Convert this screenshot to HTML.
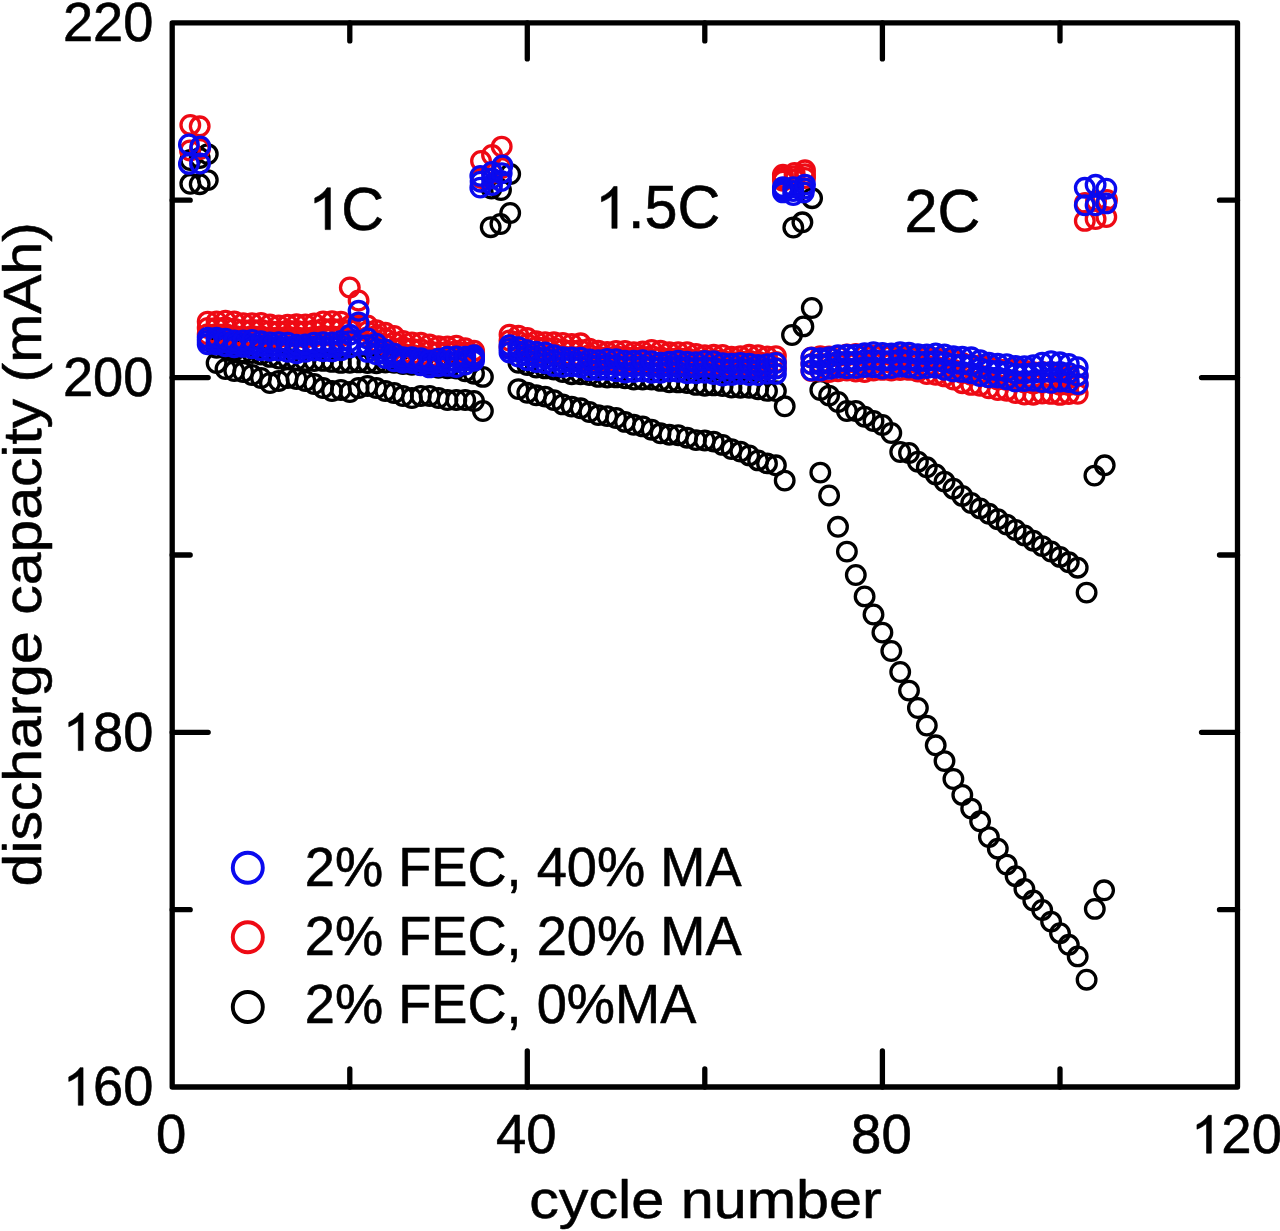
<!DOCTYPE html>
<html lang="en">
<head>
<meta charset="utf-8">
<title>discharge capacity vs cycle number</title>
<style>
html,body{margin:0;padding:0;background:#fff;}
body{width:1280px;height:1231px;overflow:hidden;font-family:"Liberation Sans",sans-serif;}
svg{display:block;filter:blur(0.55px);}
</style>
</head>
<body>
<svg width="1280" height="1231" viewBox="0 0 1280 1231">
<rect width="1280" height="1231" fill="#fff"/>
<g fill="none" stroke-width="3.3">
<g stroke="#000">
<circle cx="190.3" cy="183.8" r="9.3"/>
<circle cx="199.7" cy="184.2" r="9.3"/>
<circle cx="207.8" cy="180.1" r="9.3"/>
<circle cx="216.6" cy="363.0" r="9.3"/>
<circle cx="225.5" cy="369.0" r="9.3"/>
<circle cx="234.3" cy="371.0" r="9.3"/>
<circle cx="243.2" cy="372.0" r="9.3"/>
<circle cx="252.1" cy="375.0" r="9.3"/>
<circle cx="261.0" cy="378.0" r="9.3"/>
<circle cx="269.9" cy="383.0" r="9.3"/>
<circle cx="278.7" cy="381.0" r="9.3"/>
<circle cx="287.6" cy="378.0" r="9.3"/>
<circle cx="296.5" cy="379.0" r="9.3"/>
<circle cx="305.4" cy="381.0" r="9.3"/>
<circle cx="314.2" cy="384.0" r="9.3"/>
<circle cx="323.1" cy="388.0" r="9.3"/>
<circle cx="332.0" cy="391.0" r="9.3"/>
<circle cx="340.9" cy="390.0" r="9.3"/>
<circle cx="349.8" cy="392.0" r="9.3"/>
<circle cx="358.6" cy="388.0" r="9.3"/>
<circle cx="367.5" cy="386.0" r="9.3"/>
<circle cx="376.4" cy="388.0" r="9.3"/>
<circle cx="385.3" cy="391.0" r="9.3"/>
<circle cx="394.1" cy="393.0" r="9.3"/>
<circle cx="403.0" cy="396.0" r="9.3"/>
<circle cx="411.9" cy="398.0" r="9.3"/>
<circle cx="420.8" cy="396.0" r="9.3"/>
<circle cx="429.6" cy="396.0" r="9.3"/>
<circle cx="438.5" cy="398.0" r="9.3"/>
<circle cx="447.4" cy="400.0" r="9.3"/>
<circle cx="456.3" cy="400.0" r="9.3"/>
<circle cx="465.2" cy="400.0" r="9.3"/>
<circle cx="474.0" cy="401.0" r="9.3"/>
<circle cx="482.9" cy="411.0" r="9.3"/>
<circle cx="490.7" cy="227.2" r="9.3"/>
<circle cx="500.4" cy="224.0" r="9.3"/>
<circle cx="510.2" cy="213.0" r="9.3"/>
<circle cx="518.4" cy="389.1" r="9.3"/>
<circle cx="527.3" cy="392.8" r="9.3"/>
<circle cx="536.2" cy="395.3" r="9.3"/>
<circle cx="545.1" cy="396.6" r="9.3"/>
<circle cx="553.9" cy="400.1" r="9.3"/>
<circle cx="562.8" cy="404.4" r="9.3"/>
<circle cx="571.7" cy="406.6" r="9.3"/>
<circle cx="580.6" cy="408.3" r="9.3"/>
<circle cx="589.4" cy="412.0" r="9.3"/>
<circle cx="598.3" cy="415.1" r="9.3"/>
<circle cx="607.2" cy="416.1" r="9.3"/>
<circle cx="616.1" cy="418.0" r="9.3"/>
<circle cx="625.0" cy="421.9" r="9.3"/>
<circle cx="633.8" cy="424.8" r="9.3"/>
<circle cx="642.7" cy="426.4" r="9.3"/>
<circle cx="651.6" cy="429.7" r="9.3"/>
<circle cx="660.5" cy="433.3" r="9.3"/>
<circle cx="669.3" cy="434.7" r="9.3"/>
<circle cx="678.2" cy="435.2" r="9.3"/>
<circle cx="687.1" cy="437.7" r="9.3"/>
<circle cx="696.0" cy="440.1" r="9.3"/>
<circle cx="704.8" cy="440.5" r="9.3"/>
<circle cx="713.7" cy="441.6" r="9.3"/>
<circle cx="722.6" cy="444.9" r="9.3"/>
<circle cx="731.5" cy="449.1" r="9.3"/>
<circle cx="740.4" cy="451.6" r="9.3"/>
<circle cx="749.2" cy="455.4" r="9.3"/>
<circle cx="758.1" cy="460.4" r="9.3"/>
<circle cx="767.0" cy="463.4" r="9.3"/>
<circle cx="775.9" cy="465.3" r="9.3"/>
<circle cx="784.7" cy="480.6" r="9.3"/>
<circle cx="792.0" cy="335.0" r="9.3"/>
<circle cx="803.4" cy="326.4" r="9.3"/>
<circle cx="811.8" cy="308.0" r="9.3"/>
<circle cx="820.3" cy="472.6" r="9.3"/>
<circle cx="829.1" cy="495.5" r="9.3"/>
<circle cx="838.0" cy="526.8" r="9.3"/>
<circle cx="846.9" cy="551.6" r="9.3"/>
<circle cx="855.8" cy="575.0" r="9.3"/>
<circle cx="864.6" cy="596.4" r="9.3"/>
<circle cx="873.5" cy="614.5" r="9.3"/>
<circle cx="882.4" cy="632.6" r="9.3"/>
<circle cx="891.3" cy="651.0" r="9.3"/>
<circle cx="900.2" cy="672.0" r="9.3"/>
<circle cx="909.0" cy="690.6" r="9.3"/>
<circle cx="917.9" cy="708.0" r="9.3"/>
<circle cx="926.8" cy="725.6" r="9.3"/>
<circle cx="935.7" cy="745.3" r="9.3"/>
<circle cx="944.5" cy="761.1" r="9.3"/>
<circle cx="953.4" cy="779.0" r="9.3"/>
<circle cx="962.3" cy="794.9" r="9.3"/>
<circle cx="971.2" cy="808.6" r="9.3"/>
<circle cx="980.1" cy="821.3" r="9.3"/>
<circle cx="988.9" cy="837.1" r="9.3"/>
<circle cx="997.8" cy="848.7" r="9.3"/>
<circle cx="1006.7" cy="864.6" r="9.3"/>
<circle cx="1015.6" cy="876.2" r="9.3"/>
<circle cx="1024.4" cy="888.9" r="9.3"/>
<circle cx="1033.3" cy="900.5" r="9.3"/>
<circle cx="1042.2" cy="910.0" r="9.3"/>
<circle cx="1051.1" cy="921.6" r="9.3"/>
<circle cx="1060.0" cy="933.2" r="9.3"/>
<circle cx="1068.8" cy="944.8" r="9.3"/>
<circle cx="1077.7" cy="956.4" r="9.3"/>
<circle cx="1086.6" cy="979.7" r="9.3"/>
<circle cx="1094.8" cy="908.9" r="9.3"/>
<circle cx="1104.1" cy="890.3" r="9.3"/>
</g>
<g stroke="#000">
<circle cx="190.3" cy="160.0" r="9.3"/>
<circle cx="199.7" cy="158.0" r="9.3"/>
<circle cx="207.8" cy="154.1" r="9.3"/>
<circle cx="216.6" cy="347.8" r="9.3"/>
<circle cx="225.5" cy="348.5" r="9.3"/>
<circle cx="234.3" cy="350.4" r="9.3"/>
<circle cx="243.2" cy="352.3" r="9.3"/>
<circle cx="252.1" cy="353.1" r="9.3"/>
<circle cx="261.0" cy="354.5" r="9.3"/>
<circle cx="269.9" cy="356.9" r="9.3"/>
<circle cx="278.7" cy="358.5" r="9.3"/>
<circle cx="287.6" cy="358.8" r="9.3"/>
<circle cx="296.5" cy="360.0" r="9.3"/>
<circle cx="305.4" cy="360.9" r="9.3"/>
<circle cx="314.2" cy="361.1" r="9.3"/>
<circle cx="323.1" cy="360.9" r="9.3"/>
<circle cx="332.0" cy="361.9" r="9.3"/>
<circle cx="340.9" cy="362.9" r="9.3"/>
<circle cx="349.8" cy="362.8" r="9.3"/>
<circle cx="358.6" cy="362.4" r="9.3"/>
<circle cx="367.5" cy="363.1" r="9.3"/>
<circle cx="376.4" cy="363.2" r="9.3"/>
<circle cx="385.3" cy="362.5" r="9.3"/>
<circle cx="394.1" cy="362.8" r="9.3"/>
<circle cx="403.0" cy="364.1" r="9.3"/>
<circle cx="411.9" cy="364.8" r="9.3"/>
<circle cx="420.8" cy="365.0" r="9.3"/>
<circle cx="429.6" cy="366.1" r="9.3"/>
<circle cx="438.5" cy="367.8" r="9.3"/>
<circle cx="447.4" cy="368.3" r="9.3"/>
<circle cx="456.3" cy="368.6" r="9.3"/>
<circle cx="465.2" cy="371.3" r="9.3"/>
<circle cx="474.0" cy="373.7" r="9.3"/>
<circle cx="482.9" cy="376.9" r="9.3"/>
<circle cx="491.5" cy="188.5" r="9.3"/>
<circle cx="501.0" cy="190.0" r="9.3"/>
<circle cx="510.2" cy="174.0" r="9.3"/>
<circle cx="518.4" cy="362.8" r="9.3"/>
<circle cx="527.3" cy="365.1" r="9.3"/>
<circle cx="536.2" cy="367.5" r="9.3"/>
<circle cx="545.1" cy="368.4" r="9.3"/>
<circle cx="553.9" cy="369.5" r="9.3"/>
<circle cx="562.8" cy="372.0" r="9.3"/>
<circle cx="571.7" cy="374.2" r="9.3"/>
<circle cx="580.6" cy="374.2" r="9.3"/>
<circle cx="589.4" cy="375.0" r="9.3"/>
<circle cx="598.3" cy="376.9" r="9.3"/>
<circle cx="607.2" cy="377.6" r="9.3"/>
<circle cx="616.1" cy="377.4" r="9.3"/>
<circle cx="625.0" cy="378.3" r="9.3"/>
<circle cx="633.8" cy="379.6" r="9.3"/>
<circle cx="642.7" cy="379.5" r="9.3"/>
<circle cx="651.6" cy="379.5" r="9.3"/>
<circle cx="660.5" cy="380.9" r="9.3"/>
<circle cx="669.3" cy="382.3" r="9.3"/>
<circle cx="678.2" cy="382.4" r="9.3"/>
<circle cx="687.1" cy="383.1" r="9.3"/>
<circle cx="696.0" cy="384.9" r="9.3"/>
<circle cx="704.8" cy="385.7" r="9.3"/>
<circle cx="713.7" cy="385.4" r="9.3"/>
<circle cx="722.6" cy="386.1" r="9.3"/>
<circle cx="731.5" cy="387.5" r="9.3"/>
<circle cx="740.4" cy="387.7" r="9.3"/>
<circle cx="749.2" cy="387.8" r="9.3"/>
<circle cx="758.1" cy="389.3" r="9.3"/>
<circle cx="767.0" cy="390.9" r="9.3"/>
<circle cx="775.9" cy="391.1" r="9.3"/>
<circle cx="784.7" cy="406.3" r="9.3"/>
<circle cx="793.3" cy="227.5" r="9.3"/>
<circle cx="802.4" cy="222.3" r="9.3"/>
<circle cx="812.1" cy="198.2" r="9.3"/>
<circle cx="820.3" cy="390.0" r="9.3"/>
<circle cx="829.1" cy="395.6" r="9.3"/>
<circle cx="838.0" cy="402.0" r="9.3"/>
<circle cx="846.9" cy="411.0" r="9.3"/>
<circle cx="855.8" cy="411.0" r="9.3"/>
<circle cx="864.6" cy="416.7" r="9.3"/>
<circle cx="873.5" cy="421.0" r="9.3"/>
<circle cx="882.4" cy="425.0" r="9.3"/>
<circle cx="891.3" cy="433.0" r="9.3"/>
<circle cx="900.2" cy="452.0" r="9.3"/>
<circle cx="909.0" cy="453.0" r="9.3"/>
<circle cx="917.9" cy="461.7" r="9.3"/>
<circle cx="926.8" cy="467.3" r="9.3"/>
<circle cx="935.7" cy="474.4" r="9.3"/>
<circle cx="944.5" cy="481.6" r="9.3"/>
<circle cx="953.4" cy="488.7" r="9.3"/>
<circle cx="962.3" cy="495.9" r="9.3"/>
<circle cx="971.2" cy="503.0" r="9.3"/>
<circle cx="980.1" cy="508.4" r="9.3"/>
<circle cx="988.9" cy="513.8" r="9.3"/>
<circle cx="997.8" cy="519.2" r="9.3"/>
<circle cx="1006.7" cy="524.6" r="9.3"/>
<circle cx="1015.6" cy="530.0" r="9.3"/>
<circle cx="1024.4" cy="535.4" r="9.3"/>
<circle cx="1033.3" cy="540.7" r="9.3"/>
<circle cx="1042.2" cy="546.1" r="9.3"/>
<circle cx="1051.1" cy="551.5" r="9.3"/>
<circle cx="1060.0" cy="556.9" r="9.3"/>
<circle cx="1068.8" cy="562.3" r="9.3"/>
<circle cx="1077.7" cy="567.7" r="9.3"/>
<circle cx="1086.6" cy="592.6" r="9.3"/>
<circle cx="1094.4" cy="475.6" r="9.3"/>
<circle cx="1104.7" cy="465.3" r="9.3"/>
</g>
<g stroke="#ee0a14">
<circle cx="190.0" cy="150.5" r="9.3"/>
<circle cx="200.0" cy="149.0" r="9.3"/>
<circle cx="207.7" cy="334.3" r="9.3"/>
<circle cx="216.6" cy="333.9" r="9.3"/>
<circle cx="225.5" cy="334.0" r="9.3"/>
<circle cx="234.3" cy="335.7" r="9.3"/>
<circle cx="243.2" cy="336.7" r="9.3"/>
<circle cx="252.1" cy="336.0" r="9.3"/>
<circle cx="261.0" cy="336.2" r="9.3"/>
<circle cx="269.9" cy="337.5" r="9.3"/>
<circle cx="278.7" cy="337.3" r="9.3"/>
<circle cx="287.6" cy="336.4" r="9.3"/>
<circle cx="296.5" cy="337.3" r="9.3"/>
<circle cx="305.4" cy="337.8" r="9.3"/>
<circle cx="314.2" cy="336.7" r="9.3"/>
<circle cx="323.1" cy="335.7" r="9.3"/>
<circle cx="332.0" cy="336.3" r="9.3"/>
<circle cx="340.9" cy="336.2" r="9.3"/>
<circle cx="349.8" cy="330.0" r="9.3"/>
<circle cx="358.6" cy="327.5" r="9.3"/>
<circle cx="367.5" cy="337.3" r="9.3"/>
<circle cx="376.4" cy="341.5" r="9.3"/>
<circle cx="385.3" cy="344.8" r="9.3"/>
<circle cx="394.1" cy="348.8" r="9.3"/>
<circle cx="403.0" cy="353.7" r="9.3"/>
<circle cx="411.9" cy="354.7" r="9.3"/>
<circle cx="420.8" cy="355.4" r="9.3"/>
<circle cx="429.6" cy="357.6" r="9.3"/>
<circle cx="438.5" cy="358.1" r="9.3"/>
<circle cx="447.4" cy="356.8" r="9.3"/>
<circle cx="456.3" cy="356.1" r="9.3"/>
<circle cx="465.2" cy="357.5" r="9.3"/>
<circle cx="474.0" cy="358.0" r="9.3"/>
<circle cx="481.5" cy="178.0" r="9.3"/>
<circle cx="492.0" cy="173.0" r="9.3"/>
<circle cx="501.5" cy="168.0" r="9.3"/>
<circle cx="509.5" cy="346.5" r="9.3"/>
<circle cx="518.4" cy="347.6" r="9.3"/>
<circle cx="527.3" cy="350.3" r="9.3"/>
<circle cx="536.2" cy="352.5" r="9.3"/>
<circle cx="545.1" cy="352.6" r="9.3"/>
<circle cx="553.9" cy="353.8" r="9.3"/>
<circle cx="562.8" cy="355.9" r="9.3"/>
<circle cx="571.7" cy="356.8" r="9.3"/>
<circle cx="580.6" cy="356.5" r="9.3"/>
<circle cx="589.4" cy="361.2" r="9.3"/>
<circle cx="598.3" cy="362.9" r="9.3"/>
<circle cx="607.2" cy="362.5" r="9.3"/>
<circle cx="616.1" cy="361.4" r="9.3"/>
<circle cx="625.0" cy="362.2" r="9.3"/>
<circle cx="633.8" cy="362.9" r="9.3"/>
<circle cx="642.7" cy="361.9" r="9.3"/>
<circle cx="651.6" cy="361.9" r="9.3"/>
<circle cx="660.5" cy="363.8" r="9.3"/>
<circle cx="669.3" cy="364.5" r="9.3"/>
<circle cx="678.2" cy="363.8" r="9.3"/>
<circle cx="687.1" cy="364.5" r="9.3"/>
<circle cx="696.0" cy="365.8" r="9.3"/>
<circle cx="704.8" cy="365.3" r="9.3"/>
<circle cx="713.7" cy="364.6" r="9.3"/>
<circle cx="722.6" cy="365.8" r="9.3"/>
<circle cx="731.5" cy="367.3" r="9.3"/>
<circle cx="740.4" cy="366.6" r="9.3"/>
<circle cx="749.2" cy="366.6" r="9.3"/>
<circle cx="758.1" cy="368.3" r="9.3"/>
<circle cx="767.0" cy="369.0" r="9.3"/>
<circle cx="775.9" cy="368.0" r="9.3"/>
<circle cx="783.0" cy="180.7" r="9.3"/>
<circle cx="794.6" cy="179.4" r="9.3"/>
<circle cx="805.0" cy="178.0" r="9.3"/>
<circle cx="811.4" cy="370.9" r="9.3"/>
<circle cx="820.3" cy="371.1" r="9.3"/>
<circle cx="829.1" cy="372.0" r="9.3"/>
<circle cx="838.0" cy="371.3" r="9.3"/>
<circle cx="846.9" cy="370.6" r="9.3"/>
<circle cx="855.8" cy="371.6" r="9.3"/>
<circle cx="864.6" cy="372.0" r="9.3"/>
<circle cx="873.5" cy="370.6" r="9.3"/>
<circle cx="882.4" cy="369.9" r="9.3"/>
<circle cx="891.3" cy="370.6" r="9.3"/>
<circle cx="900.2" cy="370.1" r="9.3"/>
<circle cx="909.0" cy="369.9" r="9.3"/>
<circle cx="917.9" cy="371.5" r="9.3"/>
<circle cx="926.8" cy="374.0" r="9.3"/>
<circle cx="935.7" cy="374.8" r="9.3"/>
<circle cx="944.5" cy="376.4" r="9.3"/>
<circle cx="953.4" cy="379.6" r="9.3"/>
<circle cx="962.3" cy="383.2" r="9.3"/>
<circle cx="971.2" cy="384.9" r="9.3"/>
<circle cx="980.1" cy="385.8" r="9.3"/>
<circle cx="988.9" cy="388.3" r="9.3"/>
<circle cx="997.8" cy="390.1" r="9.3"/>
<circle cx="1006.7" cy="390.7" r="9.3"/>
<circle cx="1015.6" cy="393.0" r="9.3"/>
<circle cx="1024.4" cy="394.6" r="9.3"/>
<circle cx="1033.3" cy="394.7" r="9.3"/>
<circle cx="1042.2" cy="393.5" r="9.3"/>
<circle cx="1051.1" cy="393.9" r="9.3"/>
<circle cx="1060.0" cy="394.9" r="9.3"/>
<circle cx="1068.8" cy="394.1" r="9.3"/>
<circle cx="1077.7" cy="393.8" r="9.3"/>
<circle cx="1084.8" cy="220.9" r="9.3"/>
<circle cx="1095.6" cy="219.0" r="9.3"/>
<circle cx="1106.3" cy="217.0" r="9.3"/>
</g>
<g stroke="#ee0a14">
<circle cx="207.7" cy="327.9" r="9.3"/>
<circle cx="216.6" cy="327.7" r="9.3"/>
<circle cx="225.5" cy="327.3" r="9.3"/>
<circle cx="234.3" cy="328.6" r="9.3"/>
<circle cx="243.2" cy="329.9" r="9.3"/>
<circle cx="252.1" cy="329.6" r="9.3"/>
<circle cx="261.0" cy="329.6" r="9.3"/>
<circle cx="269.9" cy="331.0" r="9.3"/>
<circle cx="278.7" cy="331.4" r="9.3"/>
<circle cx="287.6" cy="330.5" r="9.3"/>
<circle cx="296.5" cy="330.8" r="9.3"/>
<circle cx="305.4" cy="331.1" r="9.3"/>
<circle cx="314.2" cy="330.1" r="9.3"/>
<circle cx="323.1" cy="328.6" r="9.3"/>
<circle cx="332.0" cy="328.7" r="9.3"/>
<circle cx="340.9" cy="329.0" r="9.3"/>
<circle cx="349.8" cy="326.0" r="9.3"/>
<circle cx="358.6" cy="325.0" r="9.3"/>
<circle cx="367.5" cy="331.4" r="9.3"/>
<circle cx="376.4" cy="335.8" r="9.3"/>
<circle cx="385.3" cy="338.8" r="9.3"/>
<circle cx="394.1" cy="342.4" r="9.3"/>
<circle cx="403.0" cy="347.3" r="9.3"/>
<circle cx="411.9" cy="348.6" r="9.3"/>
<circle cx="420.8" cy="349.1" r="9.3"/>
<circle cx="429.6" cy="351.1" r="9.3"/>
<circle cx="438.5" cy="352.2" r="9.3"/>
<circle cx="447.4" cy="351.6" r="9.3"/>
<circle cx="456.3" cy="350.9" r="9.3"/>
<circle cx="465.2" cy="352.8" r="9.3"/>
<circle cx="474.0" cy="354.4" r="9.3"/>
<circle cx="509.5" cy="340.5" r="9.3"/>
<circle cx="518.4" cy="341.6" r="9.3"/>
<circle cx="527.3" cy="344.2" r="9.3"/>
<circle cx="536.2" cy="346.9" r="9.3"/>
<circle cx="545.1" cy="347.4" r="9.3"/>
<circle cx="553.9" cy="348.0" r="9.3"/>
<circle cx="562.8" cy="349.4" r="9.3"/>
<circle cx="571.7" cy="350.4" r="9.3"/>
<circle cx="580.6" cy="349.9" r="9.3"/>
<circle cx="589.4" cy="355.0" r="9.3"/>
<circle cx="598.3" cy="356.8" r="9.3"/>
<circle cx="607.2" cy="357.2" r="9.3"/>
<circle cx="616.1" cy="356.2" r="9.3"/>
<circle cx="625.0" cy="356.6" r="9.3"/>
<circle cx="633.8" cy="357.5" r="9.3"/>
<circle cx="642.7" cy="356.7" r="9.3"/>
<circle cx="651.6" cy="355.9" r="9.3"/>
<circle cx="660.5" cy="357.3" r="9.3"/>
<circle cx="669.3" cy="358.4" r="9.3"/>
<circle cx="678.2" cy="358.0" r="9.3"/>
<circle cx="687.1" cy="358.3" r="9.3"/>
<circle cx="696.0" cy="359.9" r="9.3"/>
<circle cx="704.8" cy="360.3" r="9.3"/>
<circle cx="713.7" cy="359.7" r="9.3"/>
<circle cx="722.6" cy="360.4" r="9.3"/>
<circle cx="731.5" cy="362.0" r="9.3"/>
<circle cx="740.4" cy="361.4" r="9.3"/>
<circle cx="749.2" cy="360.7" r="9.3"/>
<circle cx="758.1" cy="361.7" r="9.3"/>
<circle cx="767.0" cy="362.7" r="9.3"/>
<circle cx="775.9" cy="362.0" r="9.3"/>
<circle cx="783.0" cy="177.8" r="9.3"/>
<circle cx="794.6" cy="176.2" r="9.3"/>
<circle cx="805.0" cy="174.2" r="9.3"/>
<circle cx="811.4" cy="364.1" r="9.3"/>
<circle cx="820.3" cy="363.6" r="9.3"/>
<circle cx="829.1" cy="364.2" r="9.3"/>
<circle cx="838.0" cy="363.7" r="9.3"/>
<circle cx="846.9" cy="362.5" r="9.3"/>
<circle cx="855.8" cy="362.8" r="9.3"/>
<circle cx="864.6" cy="363.6" r="9.3"/>
<circle cx="873.5" cy="363.0" r="9.3"/>
<circle cx="882.4" cy="362.2" r="9.3"/>
<circle cx="891.3" cy="362.9" r="9.3"/>
<circle cx="900.2" cy="363.2" r="9.3"/>
<circle cx="909.0" cy="363.0" r="9.3"/>
<circle cx="917.9" cy="363.6" r="9.3"/>
<circle cx="926.8" cy="365.6" r="9.3"/>
<circle cx="935.7" cy="366.5" r="9.3"/>
<circle cx="944.5" cy="367.5" r="9.3"/>
<circle cx="953.4" cy="369.8" r="9.3"/>
<circle cx="962.3" cy="373.1" r="9.3"/>
<circle cx="971.2" cy="374.8" r="9.3"/>
<circle cx="980.1" cy="375.5" r="9.3"/>
<circle cx="988.9" cy="377.6" r="9.3"/>
<circle cx="997.8" cy="379.6" r="9.3"/>
<circle cx="1006.7" cy="380.0" r="9.3"/>
<circle cx="1015.6" cy="380.9" r="9.3"/>
<circle cx="1024.4" cy="382.6" r="9.3"/>
<circle cx="1033.3" cy="383.5" r="9.3"/>
<circle cx="1042.2" cy="382.7" r="9.3"/>
<circle cx="1051.1" cy="383.1" r="9.3"/>
<circle cx="1060.0" cy="384.8" r="9.3"/>
<circle cx="1068.8" cy="385.1" r="9.3"/>
<circle cx="1077.7" cy="384.9" r="9.3"/>
</g>
<g stroke="#ee0a14">
<circle cx="190.3" cy="124.9" r="9.3"/>
<circle cx="199.7" cy="126.3" r="9.3"/>
<circle cx="207.7" cy="321.6" r="9.3"/>
<circle cx="216.6" cy="321.5" r="9.3"/>
<circle cx="225.5" cy="320.6" r="9.3"/>
<circle cx="234.3" cy="321.4" r="9.3"/>
<circle cx="243.2" cy="323.1" r="9.3"/>
<circle cx="252.1" cy="323.1" r="9.3"/>
<circle cx="261.0" cy="322.9" r="9.3"/>
<circle cx="269.9" cy="324.4" r="9.3"/>
<circle cx="278.7" cy="325.4" r="9.3"/>
<circle cx="287.6" cy="324.6" r="9.3"/>
<circle cx="296.5" cy="324.3" r="9.3"/>
<circle cx="305.4" cy="324.4" r="9.3"/>
<circle cx="314.2" cy="323.4" r="9.3"/>
<circle cx="323.1" cy="321.5" r="9.3"/>
<circle cx="332.0" cy="321.1" r="9.3"/>
<circle cx="340.9" cy="321.7" r="9.3"/>
<circle cx="349.8" cy="287.5" r="9.3"/>
<circle cx="358.6" cy="300.5" r="9.3"/>
<circle cx="367.5" cy="325.5" r="9.3"/>
<circle cx="376.4" cy="330.1" r="9.3"/>
<circle cx="385.3" cy="332.8" r="9.3"/>
<circle cx="394.1" cy="336.0" r="9.3"/>
<circle cx="403.0" cy="340.9" r="9.3"/>
<circle cx="411.9" cy="342.5" r="9.3"/>
<circle cx="420.8" cy="342.8" r="9.3"/>
<circle cx="429.6" cy="344.5" r="9.3"/>
<circle cx="438.5" cy="346.3" r="9.3"/>
<circle cx="447.4" cy="346.5" r="9.3"/>
<circle cx="456.3" cy="345.7" r="9.3"/>
<circle cx="465.2" cy="348.2" r="9.3"/>
<circle cx="474.0" cy="350.7" r="9.3"/>
<circle cx="481.0" cy="161.0" r="9.3"/>
<circle cx="492.0" cy="155.0" r="9.3"/>
<circle cx="501.7" cy="146.6" r="9.3"/>
<circle cx="509.5" cy="334.6" r="9.3"/>
<circle cx="518.4" cy="335.6" r="9.3"/>
<circle cx="527.3" cy="338.0" r="9.3"/>
<circle cx="536.2" cy="341.3" r="9.3"/>
<circle cx="545.1" cy="342.2" r="9.3"/>
<circle cx="553.9" cy="342.3" r="9.3"/>
<circle cx="562.8" cy="343.0" r="9.3"/>
<circle cx="571.7" cy="344.0" r="9.3"/>
<circle cx="580.6" cy="343.3" r="9.3"/>
<circle cx="589.4" cy="348.8" r="9.3"/>
<circle cx="598.3" cy="350.8" r="9.3"/>
<circle cx="607.2" cy="352.0" r="9.3"/>
<circle cx="616.1" cy="351.0" r="9.3"/>
<circle cx="625.0" cy="351.0" r="9.3"/>
<circle cx="633.8" cy="352.1" r="9.3"/>
<circle cx="642.7" cy="351.5" r="9.3"/>
<circle cx="651.6" cy="349.9" r="9.3"/>
<circle cx="660.5" cy="350.8" r="9.3"/>
<circle cx="669.3" cy="352.3" r="9.3"/>
<circle cx="678.2" cy="352.1" r="9.3"/>
<circle cx="687.1" cy="352.1" r="9.3"/>
<circle cx="696.0" cy="354.0" r="9.3"/>
<circle cx="704.8" cy="355.3" r="9.3"/>
<circle cx="713.7" cy="354.8" r="9.3"/>
<circle cx="722.6" cy="355.0" r="9.3"/>
<circle cx="731.5" cy="356.7" r="9.3"/>
<circle cx="740.4" cy="356.2" r="9.3"/>
<circle cx="749.2" cy="354.8" r="9.3"/>
<circle cx="758.1" cy="355.1" r="9.3"/>
<circle cx="767.0" cy="356.4" r="9.3"/>
<circle cx="775.9" cy="356.1" r="9.3"/>
<circle cx="782.9" cy="174.8" r="9.3"/>
<circle cx="794.6" cy="172.9" r="9.3"/>
<circle cx="805.0" cy="170.3" r="9.3"/>
<circle cx="811.4" cy="357.4" r="9.3"/>
<circle cx="820.3" cy="356.2" r="9.3"/>
<circle cx="829.1" cy="356.5" r="9.3"/>
<circle cx="838.0" cy="356.2" r="9.3"/>
<circle cx="846.9" cy="354.5" r="9.3"/>
<circle cx="855.8" cy="353.9" r="9.3"/>
<circle cx="864.6" cy="355.3" r="9.3"/>
<circle cx="873.5" cy="355.4" r="9.3"/>
<circle cx="882.4" cy="354.6" r="9.3"/>
<circle cx="891.3" cy="355.2" r="9.3"/>
<circle cx="900.2" cy="356.3" r="9.3"/>
<circle cx="909.0" cy="356.1" r="9.3"/>
<circle cx="917.9" cy="355.8" r="9.3"/>
<circle cx="926.8" cy="357.1" r="9.3"/>
<circle cx="935.7" cy="358.3" r="9.3"/>
<circle cx="944.5" cy="358.7" r="9.3"/>
<circle cx="953.4" cy="360.0" r="9.3"/>
<circle cx="962.3" cy="363.0" r="9.3"/>
<circle cx="971.2" cy="364.8" r="9.3"/>
<circle cx="980.1" cy="365.2" r="9.3"/>
<circle cx="988.9" cy="366.8" r="9.3"/>
<circle cx="997.8" cy="369.1" r="9.3"/>
<circle cx="1006.7" cy="369.2" r="9.3"/>
<circle cx="1015.6" cy="368.9" r="9.3"/>
<circle cx="1024.4" cy="370.5" r="9.3"/>
<circle cx="1033.3" cy="372.3" r="9.3"/>
<circle cx="1042.2" cy="371.9" r="9.3"/>
<circle cx="1051.1" cy="372.3" r="9.3"/>
<circle cx="1060.0" cy="374.7" r="9.3"/>
<circle cx="1068.8" cy="376.1" r="9.3"/>
<circle cx="1077.7" cy="375.9" r="9.3"/>
<circle cx="1085.0" cy="203.0" r="9.3"/>
<circle cx="1096.0" cy="201.0" r="9.3"/>
<circle cx="1107.0" cy="200.0" r="9.3"/>
</g>
<g stroke="#0a0aee">
<circle cx="188.9" cy="163.9" r="9.3"/>
<circle cx="200.0" cy="163.5" r="9.3"/>
<circle cx="207.7" cy="344.2" r="9.3"/>
<circle cx="216.6" cy="344.4" r="9.3"/>
<circle cx="225.5" cy="346.2" r="9.3"/>
<circle cx="234.3" cy="347.2" r="9.3"/>
<circle cx="243.2" cy="346.9" r="9.3"/>
<circle cx="252.1" cy="348.2" r="9.3"/>
<circle cx="261.0" cy="350.2" r="9.3"/>
<circle cx="269.9" cy="350.7" r="9.3"/>
<circle cx="278.7" cy="350.5" r="9.3"/>
<circle cx="287.6" cy="351.8" r="9.3"/>
<circle cx="296.5" cy="353.2" r="9.3"/>
<circle cx="305.4" cy="351.8" r="9.3"/>
<circle cx="314.2" cy="350.6" r="9.3"/>
<circle cx="323.1" cy="351.2" r="9.3"/>
<circle cx="332.0" cy="351.4" r="9.3"/>
<circle cx="340.9" cy="350.2" r="9.3"/>
<circle cx="349.8" cy="347.4" r="9.3"/>
<circle cx="358.6" cy="322.5" r="9.3"/>
<circle cx="367.5" cy="351.9" r="9.3"/>
<circle cx="376.4" cy="354.3" r="9.3"/>
<circle cx="385.3" cy="358.1" r="9.3"/>
<circle cx="394.1" cy="361.3" r="9.3"/>
<circle cx="403.0" cy="362.8" r="9.3"/>
<circle cx="411.9" cy="363.1" r="9.3"/>
<circle cx="420.8" cy="365.3" r="9.3"/>
<circle cx="429.6" cy="367.4" r="9.3"/>
<circle cx="438.5" cy="366.2" r="9.3"/>
<circle cx="447.4" cy="365.9" r="9.3"/>
<circle cx="456.3" cy="367.0" r="9.3"/>
<circle cx="465.2" cy="364.5" r="9.3"/>
<circle cx="474.0" cy="360.7" r="9.3"/>
<circle cx="480.3" cy="187.6" r="9.3"/>
<circle cx="492.0" cy="185.0" r="9.3"/>
<circle cx="501.0" cy="181.0" r="9.3"/>
<circle cx="509.5" cy="352.6" r="9.3"/>
<circle cx="518.4" cy="356.5" r="9.3"/>
<circle cx="527.3" cy="360.2" r="9.3"/>
<circle cx="536.2" cy="362.0" r="9.3"/>
<circle cx="545.1" cy="363.3" r="9.3"/>
<circle cx="553.9" cy="366.1" r="9.3"/>
<circle cx="562.8" cy="366.9" r="9.3"/>
<circle cx="571.7" cy="366.3" r="9.3"/>
<circle cx="580.6" cy="367.2" r="9.3"/>
<circle cx="589.4" cy="370.2" r="9.3"/>
<circle cx="598.3" cy="370.2" r="9.3"/>
<circle cx="607.2" cy="369.9" r="9.3"/>
<circle cx="616.1" cy="371.3" r="9.3"/>
<circle cx="625.0" cy="372.6" r="9.3"/>
<circle cx="633.8" cy="371.9" r="9.3"/>
<circle cx="642.7" cy="371.5" r="9.3"/>
<circle cx="651.6" cy="372.7" r="9.3"/>
<circle cx="660.5" cy="372.8" r="9.3"/>
<circle cx="669.3" cy="371.5" r="9.3"/>
<circle cx="678.2" cy="371.7" r="9.3"/>
<circle cx="687.1" cy="373.2" r="9.3"/>
<circle cx="696.0" cy="373.3" r="9.3"/>
<circle cx="704.8" cy="372.8" r="9.3"/>
<circle cx="713.7" cy="374.1" r="9.3"/>
<circle cx="722.6" cy="375.6" r="9.3"/>
<circle cx="731.5" cy="374.9" r="9.3"/>
<circle cx="740.4" cy="374.1" r="9.3"/>
<circle cx="749.2" cy="375.0" r="9.3"/>
<circle cx="758.1" cy="375.1" r="9.3"/>
<circle cx="767.0" cy="373.8" r="9.3"/>
<circle cx="775.9" cy="373.9" r="9.3"/>
<circle cx="783.0" cy="192.4" r="9.3"/>
<circle cx="793.3" cy="195.0" r="9.3"/>
<circle cx="803.7" cy="192.4" r="9.3"/>
<circle cx="811.4" cy="370.5" r="9.3"/>
<circle cx="820.3" cy="370.6" r="9.3"/>
<circle cx="829.1" cy="368.9" r="9.3"/>
<circle cx="838.0" cy="367.7" r="9.3"/>
<circle cx="846.9" cy="368.3" r="9.3"/>
<circle cx="855.8" cy="368.1" r="9.3"/>
<circle cx="864.6" cy="367.0" r="9.3"/>
<circle cx="873.5" cy="367.2" r="9.3"/>
<circle cx="882.4" cy="368.5" r="9.3"/>
<circle cx="891.3" cy="368.0" r="9.3"/>
<circle cx="900.2" cy="366.7" r="9.3"/>
<circle cx="909.0" cy="367.6" r="9.3"/>
<circle cx="917.9" cy="368.7" r="9.3"/>
<circle cx="926.8" cy="368.0" r="9.3"/>
<circle cx="935.7" cy="367.7" r="9.3"/>
<circle cx="944.5" cy="369.8" r="9.3"/>
<circle cx="953.4" cy="371.4" r="9.3"/>
<circle cx="962.3" cy="371.9" r="9.3"/>
<circle cx="971.2" cy="373.3" r="9.3"/>
<circle cx="980.1" cy="376.1" r="9.3"/>
<circle cx="988.9" cy="377.3" r="9.3"/>
<circle cx="997.8" cy="377.5" r="9.3"/>
<circle cx="1006.7" cy="379.2" r="9.3"/>
<circle cx="1015.6" cy="381.4" r="9.3"/>
<circle cx="1024.4" cy="381.0" r="9.3"/>
<circle cx="1033.3" cy="380.8" r="9.3"/>
<circle cx="1042.2" cy="382.0" r="9.3"/>
<circle cx="1051.1" cy="382.8" r="9.3"/>
<circle cx="1060.0" cy="381.5" r="9.3"/>
<circle cx="1068.8" cy="382.1" r="9.3"/>
<circle cx="1077.7" cy="384.0" r="9.3"/>
<circle cx="1084.8" cy="205.3" r="9.3"/>
<circle cx="1095.6" cy="205.3" r="9.3"/>
<circle cx="1106.3" cy="203.4" r="9.3"/>
</g>
<g stroke="#0a0aee">
<circle cx="207.7" cy="340.9" r="9.3"/>
<circle cx="216.6" cy="341.0" r="9.3"/>
<circle cx="225.5" cy="342.5" r="9.3"/>
<circle cx="234.3" cy="343.8" r="9.3"/>
<circle cx="243.2" cy="343.7" r="9.3"/>
<circle cx="252.1" cy="344.1" r="9.3"/>
<circle cx="261.0" cy="345.7" r="9.3"/>
<circle cx="269.9" cy="346.6" r="9.3"/>
<circle cx="278.7" cy="346.3" r="9.3"/>
<circle cx="287.6" cy="347.2" r="9.3"/>
<circle cx="296.5" cy="348.9" r="9.3"/>
<circle cx="305.4" cy="348.1" r="9.3"/>
<circle cx="314.2" cy="346.7" r="9.3"/>
<circle cx="323.1" cy="346.7" r="9.3"/>
<circle cx="332.0" cy="346.9" r="9.3"/>
<circle cx="340.9" cy="345.6" r="9.3"/>
<circle cx="349.8" cy="341.1" r="9.3"/>
<circle cx="358.6" cy="345.0" r="9.3"/>
<circle cx="367.5" cy="345.1" r="9.3"/>
<circle cx="376.4" cy="349.0" r="9.3"/>
<circle cx="385.3" cy="353.8" r="9.3"/>
<circle cx="394.1" cy="357.6" r="9.3"/>
<circle cx="403.0" cy="360.0" r="9.3"/>
<circle cx="411.9" cy="360.1" r="9.3"/>
<circle cx="420.8" cy="361.8" r="9.3"/>
<circle cx="429.6" cy="363.9" r="9.3"/>
<circle cx="438.5" cy="362.5" r="9.3"/>
<circle cx="447.4" cy="361.3" r="9.3"/>
<circle cx="456.3" cy="361.8" r="9.3"/>
<circle cx="465.2" cy="360.6" r="9.3"/>
<circle cx="474.0" cy="357.9" r="9.3"/>
<circle cx="480.6" cy="181.7" r="9.3"/>
<circle cx="492.0" cy="178.5" r="9.3"/>
<circle cx="501.7" cy="173.2" r="9.3"/>
<circle cx="509.5" cy="348.9" r="9.3"/>
<circle cx="518.4" cy="351.8" r="9.3"/>
<circle cx="527.3" cy="355.2" r="9.3"/>
<circle cx="536.2" cy="356.9" r="9.3"/>
<circle cx="545.1" cy="357.9" r="9.3"/>
<circle cx="553.9" cy="360.6" r="9.3"/>
<circle cx="562.8" cy="362.1" r="9.3"/>
<circle cx="571.7" cy="361.8" r="9.3"/>
<circle cx="580.6" cy="362.4" r="9.3"/>
<circle cx="589.4" cy="364.9" r="9.3"/>
<circle cx="598.3" cy="365.1" r="9.3"/>
<circle cx="607.2" cy="364.5" r="9.3"/>
<circle cx="616.1" cy="365.2" r="9.3"/>
<circle cx="625.0" cy="366.6" r="9.3"/>
<circle cx="633.8" cy="366.4" r="9.3"/>
<circle cx="642.7" cy="365.9" r="9.3"/>
<circle cx="651.6" cy="367.0" r="9.3"/>
<circle cx="660.5" cy="367.7" r="9.3"/>
<circle cx="669.3" cy="366.6" r="9.3"/>
<circle cx="678.2" cy="366.3" r="9.3"/>
<circle cx="687.1" cy="367.5" r="9.3"/>
<circle cx="696.0" cy="367.7" r="9.3"/>
<circle cx="704.8" cy="366.9" r="9.3"/>
<circle cx="713.7" cy="367.7" r="9.3"/>
<circle cx="722.6" cy="369.3" r="9.3"/>
<circle cx="731.5" cy="369.3" r="9.3"/>
<circle cx="740.4" cy="368.5" r="9.3"/>
<circle cx="749.2" cy="369.3" r="9.3"/>
<circle cx="758.1" cy="370.0" r="9.3"/>
<circle cx="767.0" cy="369.0" r="9.3"/>
<circle cx="775.9" cy="368.4" r="9.3"/>
<circle cx="783.0" cy="189.8" r="9.3"/>
<circle cx="793.3" cy="191.0" r="9.3"/>
<circle cx="804.3" cy="188.5" r="9.3"/>
<circle cx="811.4" cy="364.1" r="9.3"/>
<circle cx="820.3" cy="364.4" r="9.3"/>
<circle cx="829.1" cy="363.1" r="9.3"/>
<circle cx="838.0" cy="361.5" r="9.3"/>
<circle cx="846.9" cy="361.5" r="9.3"/>
<circle cx="855.8" cy="361.4" r="9.3"/>
<circle cx="864.6" cy="360.1" r="9.3"/>
<circle cx="873.5" cy="359.7" r="9.3"/>
<circle cx="882.4" cy="360.7" r="9.3"/>
<circle cx="891.3" cy="360.7" r="9.3"/>
<circle cx="900.2" cy="359.5" r="9.3"/>
<circle cx="909.0" cy="360.2" r="9.3"/>
<circle cx="917.9" cy="361.5" r="9.3"/>
<circle cx="926.8" cy="361.3" r="9.3"/>
<circle cx="935.7" cy="360.6" r="9.3"/>
<circle cx="944.5" cy="362.2" r="9.3"/>
<circle cx="953.4" cy="363.9" r="9.3"/>
<circle cx="962.3" cy="364.3" r="9.3"/>
<circle cx="971.2" cy="365.3" r="9.3"/>
<circle cx="980.1" cy="368.1" r="9.3"/>
<circle cx="988.9" cy="370.1" r="9.3"/>
<circle cx="997.8" cy="370.6" r="9.3"/>
<circle cx="1006.7" cy="371.6" r="9.3"/>
<circle cx="1015.6" cy="373.6" r="9.3"/>
<circle cx="1024.4" cy="373.6" r="9.3"/>
<circle cx="1033.3" cy="373.0" r="9.3"/>
<circle cx="1042.2" cy="372.3" r="9.3"/>
<circle cx="1051.1" cy="372.0" r="9.3"/>
<circle cx="1060.0" cy="371.9" r="9.3"/>
<circle cx="1068.8" cy="373.0" r="9.3"/>
<circle cx="1077.7" cy="375.6" r="9.3"/>
</g>
<g stroke="#0a0aee">
<circle cx="188.9" cy="144.4" r="9.3"/>
<circle cx="200.3" cy="146.5" r="9.3"/>
<circle cx="207.7" cy="337.7" r="9.3"/>
<circle cx="216.6" cy="337.6" r="9.3"/>
<circle cx="225.5" cy="338.8" r="9.3"/>
<circle cx="234.3" cy="340.5" r="9.3"/>
<circle cx="243.2" cy="340.4" r="9.3"/>
<circle cx="252.1" cy="340.0" r="9.3"/>
<circle cx="261.0" cy="341.3" r="9.3"/>
<circle cx="269.9" cy="342.4" r="9.3"/>
<circle cx="278.7" cy="342.1" r="9.3"/>
<circle cx="287.6" cy="342.6" r="9.3"/>
<circle cx="296.5" cy="344.7" r="9.3"/>
<circle cx="305.4" cy="344.4" r="9.3"/>
<circle cx="314.2" cy="342.7" r="9.3"/>
<circle cx="323.1" cy="342.2" r="9.3"/>
<circle cx="332.0" cy="342.4" r="9.3"/>
<circle cx="340.9" cy="341.0" r="9.3"/>
<circle cx="349.8" cy="334.8" r="9.3"/>
<circle cx="358.6" cy="310.8" r="9.3"/>
<circle cx="367.5" cy="338.4" r="9.3"/>
<circle cx="376.4" cy="343.7" r="9.3"/>
<circle cx="385.3" cy="349.5" r="9.3"/>
<circle cx="394.1" cy="353.8" r="9.3"/>
<circle cx="403.0" cy="357.1" r="9.3"/>
<circle cx="411.9" cy="357.2" r="9.3"/>
<circle cx="420.8" cy="358.3" r="9.3"/>
<circle cx="429.6" cy="360.4" r="9.3"/>
<circle cx="438.5" cy="358.8" r="9.3"/>
<circle cx="447.4" cy="356.7" r="9.3"/>
<circle cx="456.3" cy="356.5" r="9.3"/>
<circle cx="465.2" cy="356.7" r="9.3"/>
<circle cx="474.0" cy="355.2" r="9.3"/>
<circle cx="480.3" cy="175.9" r="9.3"/>
<circle cx="492.0" cy="172.0" r="9.3"/>
<circle cx="502.4" cy="165.5" r="9.3"/>
<circle cx="509.5" cy="345.2" r="9.3"/>
<circle cx="518.4" cy="347.1" r="9.3"/>
<circle cx="527.3" cy="350.2" r="9.3"/>
<circle cx="536.2" cy="351.8" r="9.3"/>
<circle cx="545.1" cy="352.5" r="9.3"/>
<circle cx="553.9" cy="355.1" r="9.3"/>
<circle cx="562.8" cy="357.3" r="9.3"/>
<circle cx="571.7" cy="357.4" r="9.3"/>
<circle cx="580.6" cy="357.7" r="9.3"/>
<circle cx="589.4" cy="359.5" r="9.3"/>
<circle cx="598.3" cy="360.1" r="9.3"/>
<circle cx="607.2" cy="359.0" r="9.3"/>
<circle cx="616.1" cy="359.1" r="9.3"/>
<circle cx="625.0" cy="360.6" r="9.3"/>
<circle cx="633.8" cy="360.8" r="9.3"/>
<circle cx="642.7" cy="360.2" r="9.3"/>
<circle cx="651.6" cy="361.2" r="9.3"/>
<circle cx="660.5" cy="362.6" r="9.3"/>
<circle cx="669.3" cy="361.8" r="9.3"/>
<circle cx="678.2" cy="360.8" r="9.3"/>
<circle cx="687.1" cy="361.7" r="9.3"/>
<circle cx="696.0" cy="362.2" r="9.3"/>
<circle cx="704.8" cy="361.0" r="9.3"/>
<circle cx="713.7" cy="361.2" r="9.3"/>
<circle cx="722.6" cy="363.1" r="9.3"/>
<circle cx="731.5" cy="363.7" r="9.3"/>
<circle cx="740.4" cy="362.9" r="9.3"/>
<circle cx="749.2" cy="363.6" r="9.3"/>
<circle cx="758.1" cy="364.9" r="9.3"/>
<circle cx="767.0" cy="364.1" r="9.3"/>
<circle cx="775.9" cy="363.0" r="9.3"/>
<circle cx="782.9" cy="187.2" r="9.3"/>
<circle cx="793.3" cy="187.2" r="9.3"/>
<circle cx="805.0" cy="184.6" r="9.3"/>
<circle cx="811.4" cy="357.6" r="9.3"/>
<circle cx="820.3" cy="358.3" r="9.3"/>
<circle cx="829.1" cy="357.3" r="9.3"/>
<circle cx="838.0" cy="355.3" r="9.3"/>
<circle cx="846.9" cy="354.8" r="9.3"/>
<circle cx="855.8" cy="354.6" r="9.3"/>
<circle cx="864.6" cy="353.3" r="9.3"/>
<circle cx="873.5" cy="352.1" r="9.3"/>
<circle cx="882.4" cy="352.9" r="9.3"/>
<circle cx="891.3" cy="353.4" r="9.3"/>
<circle cx="900.2" cy="352.3" r="9.3"/>
<circle cx="909.0" cy="352.7" r="9.3"/>
<circle cx="917.9" cy="354.3" r="9.3"/>
<circle cx="926.8" cy="354.5" r="9.3"/>
<circle cx="935.7" cy="353.5" r="9.3"/>
<circle cx="944.5" cy="354.5" r="9.3"/>
<circle cx="953.4" cy="356.3" r="9.3"/>
<circle cx="962.3" cy="356.8" r="9.3"/>
<circle cx="971.2" cy="357.3" r="9.3"/>
<circle cx="980.1" cy="360.1" r="9.3"/>
<circle cx="988.9" cy="362.8" r="9.3"/>
<circle cx="997.8" cy="363.7" r="9.3"/>
<circle cx="1006.7" cy="364.1" r="9.3"/>
<circle cx="1015.6" cy="365.9" r="9.3"/>
<circle cx="1024.4" cy="366.2" r="9.3"/>
<circle cx="1033.3" cy="365.2" r="9.3"/>
<circle cx="1042.2" cy="362.7" r="9.3"/>
<circle cx="1051.1" cy="361.2" r="9.3"/>
<circle cx="1060.0" cy="362.3" r="9.3"/>
<circle cx="1068.8" cy="363.9" r="9.3"/>
<circle cx="1077.7" cy="367.2" r="9.3"/>
<circle cx="1084.8" cy="187.8" r="9.3"/>
<circle cx="1095.6" cy="184.8" r="9.3"/>
<circle cx="1106.3" cy="188.7" r="9.3"/>
</g>
</g>
<g fill="none" stroke-width="3.9">
<circle cx="247.8" cy="867.8" r="15" stroke="#0a0aee"/>
<circle cx="247.8" cy="937.2" r="15" stroke="#ee0a14"/>
<circle cx="247.8" cy="1007.0" r="15" stroke="#000"/>
</g>
<g fill="none" stroke="#000" stroke-width="5.3" stroke-linecap="round" stroke-linejoin="round">
<rect x="172.2" y="22.9" width="1065.3" height="1064.1"/>
<path d="M349.8 22.9V40.9M349.8 1087.0V1069.0M527.3 22.9V58.9M527.3 1087.0V1051.0M704.8 22.9V40.9M704.8 1087.0V1069.0M882.4 22.9V58.9M882.4 1087.0V1051.0M1060.0 22.9V40.9M1060.0 1087.0V1069.0M172.2 909.7H190.2M1237.5 909.7H1219.5M172.2 732.3H208.2M1237.5 732.3H1201.5M172.2 555.0H190.2M1237.5 555.0H1219.5M172.2 377.6H208.2M1237.5 377.6H1201.5M172.2 200.2H190.2M1237.5 200.2H1219.5"/>
</g>
<g font-family="'Liberation Sans', sans-serif" fill="#000" stroke="#000" stroke-width="0.6" stroke-linejoin="round">
<g transform="translate(153.30 41.30) scale(1 1.010)" font-size="54.2"><text x="-90.43" y="0">220</text></g>
<g transform="translate(153.30 395.90) scale(1 1.010)" font-size="54.2"><text x="-90.43" y="0">200</text></g>
<g transform="translate(153.30 750.60) scale(1 1.010)" font-size="54.2"><path transform="translate(-90.43 0) scale(0.02646 -0.02646)" d="M763 0H583V1102Q518 1043 412 983Q307 924 223 894V1061Q374 1129 487 1226Q600 1323 647 1409H763Z" stroke-width="22.7"/><text x="-60.29" y="0">80</text></g>
<g transform="translate(153.30 1105.30) scale(1 1.010)" font-size="54.2"><path transform="translate(-90.43 0) scale(0.02646 -0.02646)" d="M763 0H583V1102Q518 1043 412 983Q307 924 223 894V1061Q374 1129 487 1226Q600 1323 647 1409H763Z" stroke-width="22.7"/><text x="-60.29" y="0">60</text></g>
<g transform="translate(171.20 1153.20) scale(1 1.010)" font-size="54.5"><text x="-15.16" y="0">0</text></g>
<g transform="translate(526.30 1153.20) scale(1 1.010)" font-size="54.5"><text x="-30.31" y="0">40</text></g>
<g transform="translate(881.40 1153.20) scale(1 1.010)" font-size="54.5"><text x="-30.31" y="0">80</text></g>
<g transform="translate(1236.50 1153.20) scale(1 1.010)" font-size="54.5"><path transform="translate(-45.47 0) scale(0.02661 -0.02661)" d="M763 0H583V1102Q518 1043 412 983Q307 924 223 894V1061Q374 1129 487 1226Q600 1323 647 1409H763Z" stroke-width="22.5"/><text x="-15.16" y="0">20</text></g>
<g transform="translate(308.30 229.60) scale(1 1.025)" font-size="59.3"><path transform="translate(0.00 0) scale(0.02896 -0.02896)" d="M763 0H583V1102Q518 1043 412 983Q307 924 223 894V1061Q374 1129 487 1226Q600 1323 647 1409H763Z" stroke-width="20.7"/><text x="32.98" y="0">C</text></g>
<g transform="translate(595.00 228.30) scale(1 1.025)" font-size="59.3"><path transform="translate(0.00 0) scale(0.02896 -0.02896)" d="M763 0H583V1102Q518 1043 412 983Q307 924 223 894V1061Q374 1129 487 1226Q600 1323 647 1409H763Z" stroke-width="20.7"/><text x="32.98" y="0">.5C</text></g>
<g transform="translate(904.60 232.00) scale(1 1.025)" font-size="59.3"><text x="0.00" y="0">2C</text></g>
<g transform="translate(304.80 885.60) scale(1 1.010)" font-size="54.2"><text x="0.00" y="0">2% FEC, 40% MA</text></g>
<g transform="translate(304.80 954.80) scale(1 1.010)" font-size="54.2"><text x="0.00" y="0">2% FEC, 20% MA</text></g>
<g transform="translate(304.80 1023.20) scale(1 1.010)" font-size="54.2"><text x="0.00" y="0">2% FEC, 0%MA</text></g>
<g transform="translate(705.50 1217.90) scale(1 0.920)" font-size="59.3"><text x="-176.32" y="0">cycle number</text></g>
<g transform="translate(41.40 554.20) rotate(-90) scale(1 0.920)" font-size="58.9"><text x="-332.26" y="0">discharge capacity (mAh)</text></g>
</g>
</svg>
</body>
</html>
